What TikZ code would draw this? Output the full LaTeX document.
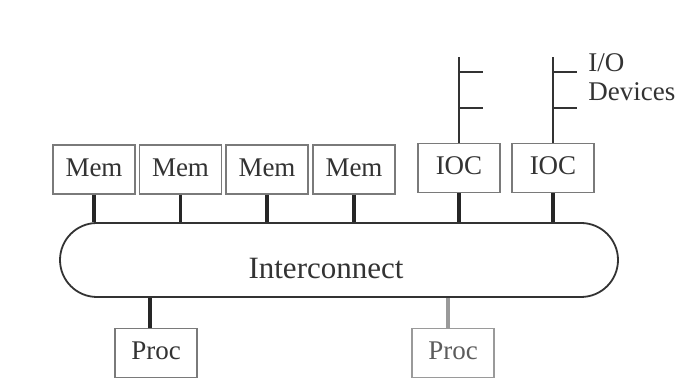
\documentclass[tikz,border=0pt]{standalone}
\usepackage{fontspec}
\setmainfont{Liberation Serif}
\usetikzlibrary{shapes.misc}
\definecolor{ink}{HTML}{333333}
\definecolor{frame}{HTML}{7A7A7A}
\definecolor{pale}{HTML}{9A9A9A}
\begin{document}
\begin{tikzpicture}[x=0.5pt,y=-0.5pt,
  unit/.style={draw=frame,line width=0.6pt,minimum width=41pt,minimum height=24.5pt,
    inner sep=0pt,text=ink,font=\fontsize{13.5}{15}\selectfont,
    text height=9pt,text depth=2.4pt},
  link/.style={line width=1.6pt,black!85},
  wire/.style={line width=1pt,ink},
  caption/.style={text=ink,inner sep=0pt,anchor=west,font=\fontsize{13.5}{15}\selectfont},
  ]
\useasboundingbox[fill=white] (0,0) rectangle (686,383);

% shared interconnect
\node[rounded rectangle,draw=ink,line width=0.9pt,minimum width=279pt,
      minimum height=37pt,inner sep=0pt] (bus) at (339,260) {};
\node[text=ink,font=\fontsize{15.5}{18}\selectfont] (lbl) at (326,269) {Interconnect};

% memory modules
\node[unit] (m1) at (94,169.5) {Mem};
\node[unit] (m2) at (180.5,169.5) {Mem};
\node[unit] (m3) at (267,169.5) {Mem};
\node[unit] (m4) at (354,169.5) {Mem};

% I/O controllers
\node[unit] (io1) at (459,168) {IOC};
\node[unit] (io2) at (553,168) {IOC};

% processors
\node[unit] (p1) at (156,353) {Proc};
\node[unit,draw=pale,text=ink!80] (p2) at (453,353) {Proc};

% attachments to the interconnect
\foreach \n in {m1,m2,m3,m4,io1,io2}
  \draw[link] (\n.south) -- (\n.south |- bus.north);
\draw[link] ([xshift=-3pt]p1.north) -- ([xshift=-3pt]p1.north |- bus.south);
\draw[line width=1.6pt,pale] ([xshift=-2.5pt]p2.north) -- ([xshift=-2.5pt]p2.north |- bus.south);

% device buses above the controllers
\coordinate (d1) at (459,57);
\coordinate (d2) at (553,57);
\draw[wire] (io1.north) -- (d1);
\draw[wire] (io2.north) -- (d2);
\coordinate (a1) at (459,72);  \coordinate (b1) at (459,108);
\coordinate (a2) at (553,72);  \coordinate (b2) at (553,108);
\draw[wire] (a1) -- ++(24,0);
\draw[wire] (b1) -- ++(24,0);
\draw[wire] (a2) -- ++(24,0);
\draw[wire] (b2) -- ++(24,0);

\node[caption] (t1) at (588,63) {I/O};
\node[caption] (t2) at (588,92) {Devices};
\end{tikzpicture}
\end{document}
